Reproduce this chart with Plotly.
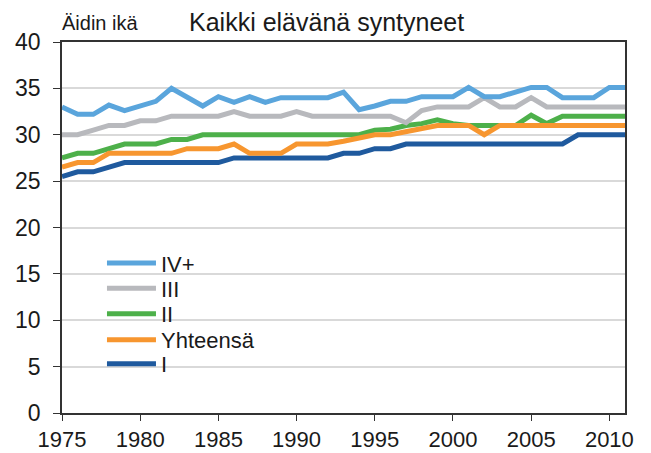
import plotly.graph_objects as go

years = list(range(1975, 2012))

iv_plus = [33, 32.2, 32.2, 33.2, 32.6, 33.1, 33.6, 35, 34, 33.1,
           34.1, 33.5, 34.1, 33.5, 34, 34, 34, 34, 34.6, 32.7,
           33.1, 33.6, 33.6, 34.1, 34.1, 34.1, 35.1, 34.1, 34.1, 34.6,
           35.1, 35.1, 34, 34, 34, 35.1, 35.1]
iii = [30, 30, 30.5, 31, 31, 31.5, 31.5, 32, 32, 32,
       32, 32.5, 32, 32, 32, 32.5, 32, 32, 32, 32,
       32, 32, 31.3, 32.6, 33, 33, 33, 34, 33, 33,
       34, 33, 33, 33, 33, 33, 33]
ii = [27.5, 28, 28, 28.5, 29, 29, 29, 29.5, 29.5, 30,
      30, 30, 30, 30, 30, 30, 30, 30, 30, 30,
      30.5, 30.6, 31, 31.2, 31.6, 31.2, 31, 31, 31, 31,
      32.1, 31.2, 32, 32, 32, 32, 32]
total = [26.5, 27, 27, 28, 28, 28, 28, 28, 28.5, 28.5,
         28.5, 29, 28, 28, 28, 29, 29, 29, 29.3, 29.6,
         30, 30, 30.3, 30.6, 31, 31, 31, 30, 31, 31,
         31, 31, 31, 31, 31, 31, 31]
i_first = [25.5, 26, 26, 26.5, 27, 27, 27, 27, 27, 27,
           27, 27.5, 27.5, 27.5, 27.5, 27.5, 27.5, 27.5, 28, 28,
           28.5, 28.5, 29, 29, 29, 29, 29, 29, 29, 29,
           29, 29, 29, 30, 30, 30, 30]

# (name, values, color, legend id)
series = [
    ("I", i_first, "#1F5A9E", "legend5"),
    ("II", ii, "#4DB04A", "legend3"),
    ("III", iii, "#B8B9BD", "legend2"),
    ("IV+", iv_plus, "#5AA5DC", "legend"),
    ("Yhteensä", total, "#F7962F", "legend4"),
]
legend_y = {"legend": 0.404, "legend2": 0.336, "legend3": 0.267,
            "legend4": 0.197, "legend5": 0.132}

FONT = "Liberation Sans, Arial, sans-serif"
TXT = "#1a1a1a"

fig = go.Figure()
for name, vals, color, lg in series:
    fig.add_trace(go.Scatter(
        x=years, y=vals, mode="lines", name=name,
        line=dict(color=color, width=5),
        legend=lg,
    ))

legend_common = dict(
    x=0.071, xanchor="left", yanchor="middle",
    bgcolor="rgba(255,255,255,0)", borderwidth=0,
    font=dict(size=22, family=FONT, color=TXT),
    itemwidth=49,
)
legends = {k: dict(legend_common, y=v) for k, v in legend_y.items()}

fig.update_layout(
    width=643, height=445,
    margin=dict(l=54, r=26, t=34, b=40, autoexpand=False),
    paper_bgcolor="white", plot_bgcolor="white",
    font=dict(family=FONT, color=TXT, size=22),
    showlegend=True,
    **legends,
    xaxis=dict(
        range=[1975, 2011], tickmode="array",
        tickvals=[1975, 1980, 1985, 1990, 1995, 2000, 2005, 2010],
        ticks="outside", ticklen=6, tickcolor="#333",
        showline=True, linecolor="#333", linewidth=1.5, mirror=True,
        showgrid=False, zeroline=False, automargin=False,
        tickfont=dict(size=22, family=FONT, color=TXT),
    ),
    yaxis=dict(
        range=[0, 40], tickmode="array",
        tickvals=[0, 5, 10, 15, 20, 25, 30, 35, 40],
        ticks="outside", ticklen=7, tickcolor="#333",
        showline=True, linecolor="#333", linewidth=1.5, mirror=True,
        showgrid=True, gridcolor="#D9D9D9", gridwidth=1.5,
        zeroline=False, automargin=False, ticklabelstandoff=8,
        tickfont=dict(size=23, family=FONT, color=TXT),
    ),
    annotations=[
        dict(text="Äidin ikä", xref="paper", yref="paper",
             x=-0.004, y=1.05, xanchor="left", yanchor="middle",
             showarrow=False, font=dict(size=20, family=FONT, color=TXT)),
        dict(text="Kaikki elävänä syntyneet", xref="paper", yref="paper",
             x=0.47, y=1.055, xanchor="center", yanchor="middle",
             showarrow=False, font=dict(size=25, family=FONT, color=TXT)),
    ],
)

fig.write_html("out.html")
